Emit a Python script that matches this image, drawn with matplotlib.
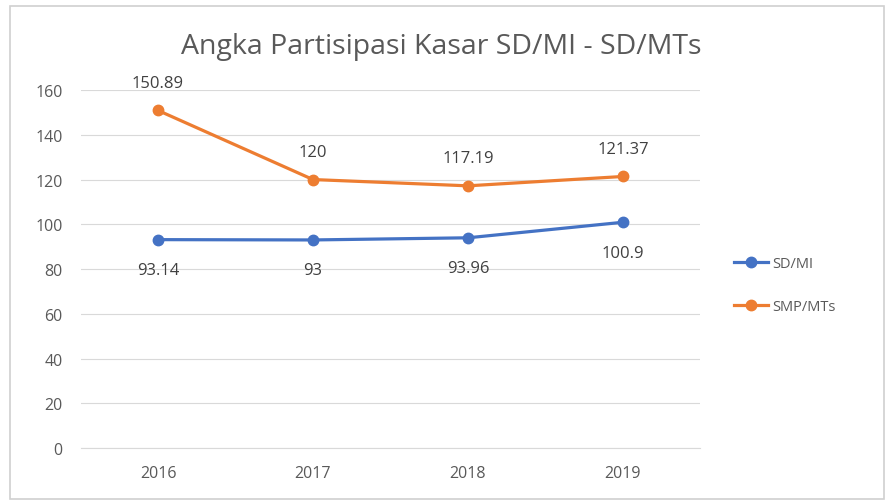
import matplotlib.pyplot as plt
from matplotlib.patches import Rectangle

years = ['2016', '2017', '2018', '2019']
sd_mi = [93.14, 93, 93.96, 100.9]
smp_mts = [150.89, 120, 117.19, 121.37]
sd_labels = ['93.14', '93', '93.96', '100.9']
smp_labels = ['150.89', '120', '117.19', '121.37']
y_ticks = [0, 20, 40, 60, 80, 100, 120, 140, 160]

blue = '#4472C4'
orange = '#ED7D31'
grey = '#595959'

plt.rcParams['font.family'] = ['Open Sans', 'DejaVu Sans']

fig = plt.figure(figsize=(8.88, 5.02), dpi=100)
ax = fig.add_axes([0.0907, 0.1056, 0.698, 0.713])

# chart frame
fig.patches.append(Rectangle((0.011, 0.004), 0.985, 0.982, transform=fig.transFigure,
                             fill=False, edgecolor='#D0D0D0', linewidth=1.2))

x = range(len(years))
ax.plot(x, sd_mi, color=blue, linewidth=2.3, marker='o', markersize=7.5, label='SD/MI', zorder=3)
ax.plot(x, smp_mts, color=orange, linewidth=2.3, marker='o', markersize=7.5, label='SMP/MTs', zorder=3)

for i in x:
    ax.annotate(smp_labels[i], (i, smp_mts[i]), xytext=(0, 20), textcoords='offset points',
                ha='center', va='center', fontsize=12, color='#404040')
    ax.annotate(sd_labels[i], (i, sd_mi[i]), xytext=(0, -22), textcoords='offset points',
                ha='center', va='center', fontsize=12, color='#404040')

ax.set_xlim(-0.5, 3.5)
ax.set_ylim(0, 160)
ax.set_xticks(list(x))
ax.set_xticklabels(years)
ax.set_yticks(y_ticks)
ax.tick_params(axis='both', length=0, labelsize=11.5, labelcolor=grey)
ax.tick_params(axis='x', pad=12)
ax.tick_params(axis='y', pad=13)
ax.grid(axis='y', color='#D9D9D9', linewidth=0.8)
ax.set_axisbelow(True)
for side in ['top', 'right', 'left']:
    ax.spines[side].set_visible(False)
ax.spines['bottom'].set_color('#D9D9D9')
ax.spines['bottom'].set_linewidth(0.8)

fig.text(0.497, 0.907, 'Angka Partisipasi Kasar SD/MI - SD/MTs', ha='center', va='center',
         fontsize=20.5, color=grey)

fig.legend(loc='center left', bbox_to_anchor=(0.812, 0.43), frameon=False, fontsize=10.5,
           labelcolor=grey, handlelength=2.3, labelspacing=1.9, handletextpad=0.3)

fig.savefig('out.png', dpi=100)
